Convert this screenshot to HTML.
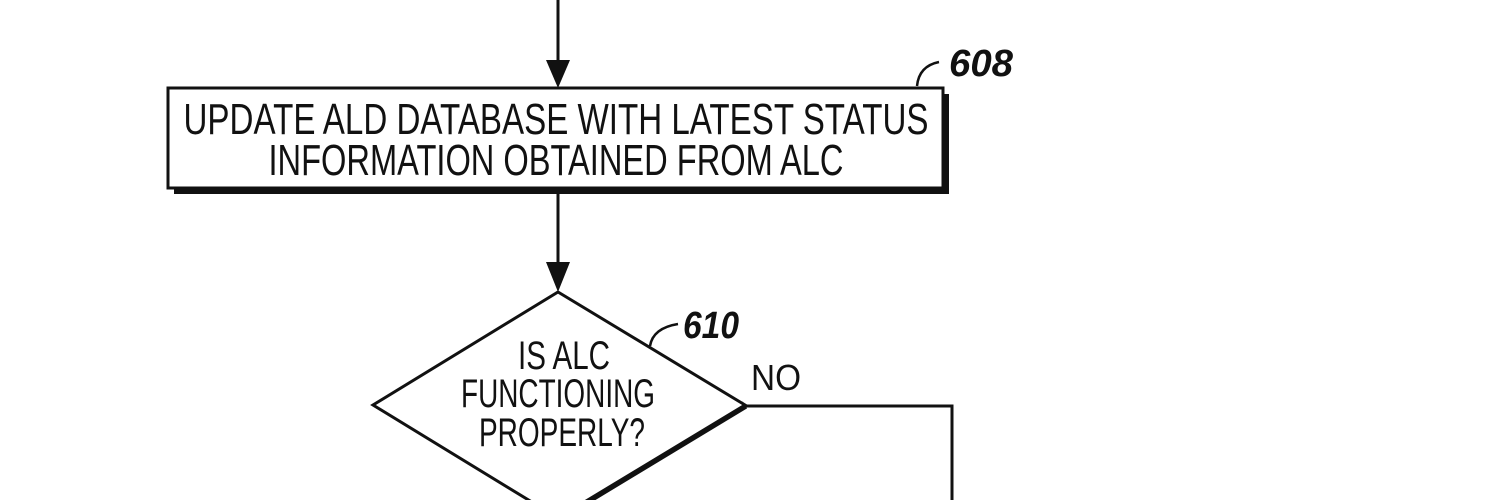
<!DOCTYPE html>
<html><head><style>html,body{margin:0;padding:0;background:#fff;width:1500px;height:500px;overflow:hidden}</style></head>
<body>
<svg width="1500" height="500" viewBox="0 0 1500 500" xmlns="http://www.w3.org/2000/svg" font-family="Liberation Sans, sans-serif" fill="#111">
<line x1="558" y1="0" x2="558" y2="70" stroke="#111" stroke-width="3"/>
<polygon points="546,60 570,60 558,88" fill="#111"/>
<rect x="174" y="94" width="775" height="100" fill="#111"/>
<rect x="168" y="88" width="775" height="100" fill="#fff" stroke="#111" stroke-width="3"/>
<text x="556" y="134" font-size="44" text-anchor="middle" textLength="745" lengthAdjust="spacingAndGlyphs">UPDATE ALD DATABASE WITH LATEST STATUS</text>
<text x="556" y="175" font-size="44" text-anchor="middle" textLength="575" lengthAdjust="spacingAndGlyphs">INFORMATION OBTAINED FROM ALC</text>
<path d="M917,86 q2,-20 22,-24" fill="none" stroke="#111" stroke-width="2.5"/>
<text x="949" y="76" font-size="38" font-style="italic" font-weight="bold" textLength="64" lengthAdjust="spacingAndGlyphs">608</text>
<line x1="558" y1="194" x2="558" y2="272" stroke="#111" stroke-width="3"/>
<polygon points="546,262 570,262 558,292" fill="#111"/>
<line x1="745" y1="405" x2="558" y2="518" stroke="#111" stroke-width="8"/>
<polygon points="558,292 745,405 558,518 373,405" fill="#fff" stroke="#111" stroke-width="3"/>
<text x="564" y="369" font-size="40" text-anchor="middle" textLength="92" lengthAdjust="spacingAndGlyphs">IS ALC</text>
<text x="558" y="407" font-size="40" text-anchor="middle" textLength="194" lengthAdjust="spacingAndGlyphs">FUNCTIONING</text>
<text x="562" y="446" font-size="40" text-anchor="middle" textLength="166" lengthAdjust="spacingAndGlyphs">PROPERLY?</text>
<path d="M650,346 q3,-18 28,-22" fill="none" stroke="#111" stroke-width="2.5"/>
<text x="683" y="338" font-size="38" font-style="italic" font-weight="bold" textLength="56" lengthAdjust="spacingAndGlyphs">610</text>
<text x="751" y="390" font-size="36" textLength="50" lengthAdjust="spacingAndGlyphs">NO</text>
<polyline points="745,406 952,406 952,500" fill="none" stroke="#111" stroke-width="3"/>
</svg>
</body></html>
